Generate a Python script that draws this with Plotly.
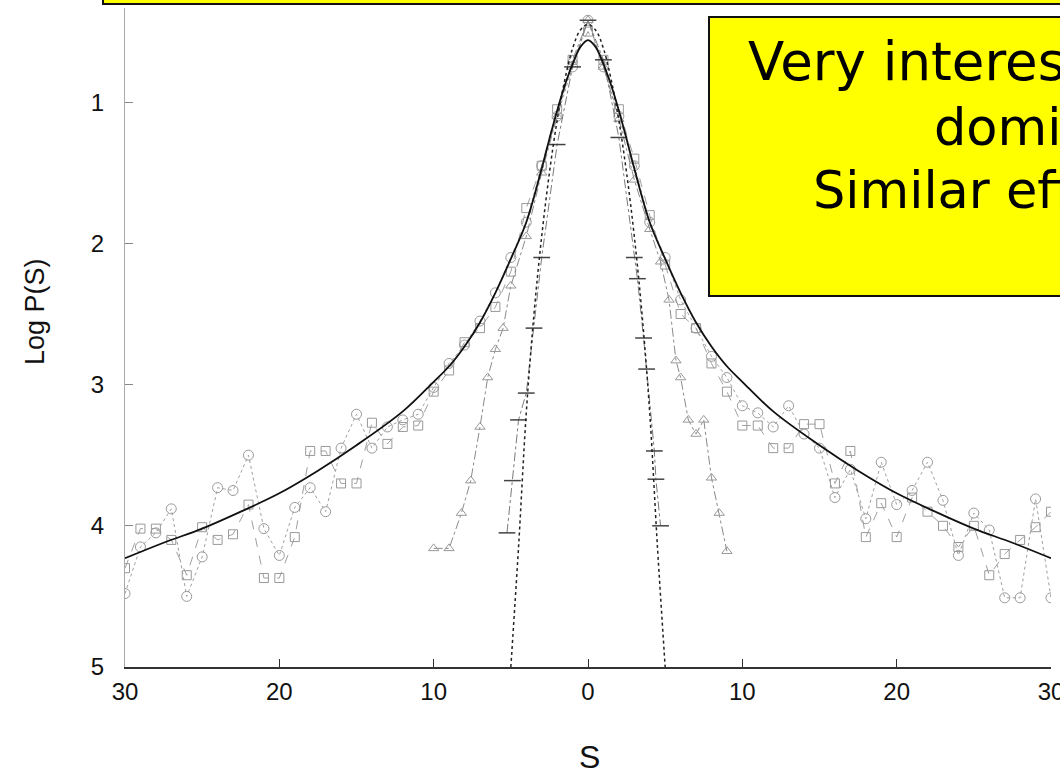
import plotly.graph_objects as go

# ---------------- data ----------------
# smooth fitted curve (solid black)
fit_s = [-30, -27.5, -25, -22.5, -20, -17.5, -15, -12, -10, -9, -8, -7, -6, -5, -4, -3, -2.5, -2, -1.5, -1, -0.5, 0,
         0.5, 1, 1.5, 2, 2.5, 3, 4, 5, 6, 7, 8, 9, 10, 12, 15, 17.5, 20, 22.5, 25, 27.5, 30]
fit_logp = [4.23, 4.12, 4.02, 3.90, 3.77, 3.61, 3.43, 3.19, 2.98, 2.87, 2.73, 2.56, 2.35, 2.11, 1.85, 1.47, 1.26, 1.06, 0.88, 0.73, 0.61, 0.56,
            0.61, 0.73, 0.88, 1.06, 1.26, 1.47, 1.85, 2.11, 2.35, 2.56, 2.73, 2.87, 2.98, 3.19, 3.43, 3.61, 3.77, 3.90, 4.02, 4.12, 4.23]

# narrow gaussian (dotted black)
gauss_s = [-5, -4.5, -4, -3.5, -3, -2.5, -2, -1.5, -1, -0.5, 0, 0.5, 1, 1.5, 2, 2.5, 3, 3.5, 4, 4.5, 5]
gauss_logp = [5.0, 4.15, 3.2, 2.5, 1.95, 1.5, 1.13, 0.84, 0.62, 0.49, 0.45, 0.49, 0.62, 0.84, 1.13, 1.5, 1.95, 2.5, 3.2, 4.15, 5.0]

# wide data set 1 (circles)
circ_s = list(range(-30, 31))
circ_logp = [4.48, 4.15, 4.05, 3.88, 4.50, 4.22, 3.73, 3.75, 3.50, 4.02, 4.21, 3.87, 3.73, 3.90, 3.45, 3.21, 3.45, 3.30, 3.25, 3.21,
             3.02, 2.85, 2.72, 2.55, 2.35, 2.10, 1.85, 1.45, 1.10, 0.75, 0.42,
             0.75, 1.10, 1.45, 1.85, 2.10, 2.40, 2.60, 2.80, 2.95, 3.15, 3.20, 3.30, 3.15, 3.35, 3.45, 3.80, 3.60, 3.95, 3.55, 3.85,
             3.75, 3.55, 3.82, 4.21, 3.91, 4.03, 4.51, 4.51, 3.81, 4.51]

# wide data set 2 (squares)
sq_s = list(range(-30, 31))
sq_logp = [4.30, 4.02, 4.02, 4.10, 4.35, 4.01, 4.10, 4.06, 3.85, 4.37, 4.37, 4.08, 3.47, 3.47, 3.70, 3.70, 3.27, 3.42, 3.30, 3.29,
           3.05, 2.90, 2.70, 2.60, 2.45, 2.20, 1.75, 1.45, 1.05, 0.70, 0.50,
           0.70, 1.05, 1.40, 1.80, 2.15, 2.50, 2.60, 2.85, 3.05, 3.29, 3.29, 3.45, 3.45, 3.28, 3.28, 3.70, 3.47, 4.08, 3.84, 4.08,
           3.80, 3.90, 4.00, 4.15, 4.00, 4.35, 4.20, 4.10, 4.01, 3.90]

# intermediate data set (triangles)
tri_s = [-10, -9, -8.2, -7.6, -7, -6.5, -6, -5.5, -5, -4, -3, -2, -1, 0, 1, 2, 3, 4, 4.7, 5.25, 5.7, 6, 6.5, 7, 7.5, 8, 8.5, 9]
tri_logp = [4.16, 4.16, 3.91, 3.68, 3.30, 2.95, 2.75, 2.60, 2.30, 1.95, 1.50, 1.10, 0.70, 0.42, 0.75, 1.12, 1.55, 1.90, 2.13, 2.40,
            2.83, 2.95, 3.25, 3.35, 3.25, 3.66, 3.91, 4.18]

# narrow data set (dashes)
nar_s = [-5.25, -4.9, -4.5, -4, -3.5, -3, -2, -1, 0, 1, 2, 3, 3.2, 3.6, 3.8, 4.3, 4.4, 4.7]
nar_logp = [4.05, 3.68, 3.25, 3.06, 2.60, 2.10, 1.30, 0.75, 0.42, 0.70, 1.25, 2.10, 2.25, 2.67, 2.89, 3.47, 3.67, 4.00]

x_tickvals = [-30, -20, -10, 0, 10, 20, 30]
x_ticktext = ["30", "20", "10", "0", "10", "20", "30"]
y_tickvals = [1, 2, 3, 4, 5]
y_ticktext = ["1", "2", "3", "4", "5"]

box_lines = ["Very interesting: fat tails", "dominate", "Similar effect elsewhere"]

# ---------------- figure ----------------
W, H = 1060, 772
L, R, T, B = 125, 9, 8, 105
pw, ph = W - L - R, H - T - B


def px(xp):
    return (xp - L) / pw


def py(yp):
    return (H - B - yp) / ph


fig = go.Figure()

fig.add_trace(go.Scatter(x=sq_s, y=sq_logp, mode="lines+markers",
                         line=dict(color="#a0a0a0", width=1, dash="dash"),
                         marker=dict(symbol="square-open", size=9, color="#999999", line=dict(width=1))))
fig.add_trace(go.Scatter(x=circ_s, y=circ_logp, mode="lines+markers",
                         line=dict(color="#a0a0a0", width=1, dash="dot"),
                         marker=dict(symbol="circle-open", size=10, color="#999999", line=dict(width=1))))
fig.add_trace(go.Scatter(x=tri_s, y=tri_logp, mode="lines+markers",
                         line=dict(color="#8a8a8a", width=1, dash="dashdot"),
                         marker=dict(symbol="triangle-up-open", size=9, color="#999999", line=dict(width=1))))
fig.add_trace(go.Scatter(x=nar_s, y=nar_logp, mode="lines+markers",
                         line=dict(color="#7a7a7a", width=1, dash="dashdot"),
                         marker=dict(symbol="line-ew-open", size=12, color="#444444", line=dict(width=1.5))))
fig.add_trace(go.Scatter(x=gauss_s, y=gauss_logp, mode="lines", line_shape="spline",
                         line=dict(color="#222222", width=1.5, dash="dot")))
fig.add_trace(go.Scatter(x=fit_s, y=fit_logp, mode="lines", line_shape="spline",
                         line=dict(color="#111111", width=1.8)))

tickfont = dict(family="Liberation Sans Narrow, Liberation Sans, Arial, sans-serif", size=24, color="#111")

fig.update_xaxes(range=[-30, 30], tickmode="array", tickvals=x_tickvals, ticktext=x_ticktext,
                 ticks="inside", ticklen=8, tickcolor="#333", tickwidth=1,
                 showline=True, linecolor="#333", linewidth=2, showgrid=False, zeroline=False,
                 tickfont=tickfont, ticklabelstandoff=2, ticklabeloverflow="allow", automargin=False)
fig.update_yaxes(range=[5, 0.333], tickmode="array", tickvals=y_tickvals, ticktext=y_ticktext,
                 ticks="inside", ticklen=8, tickcolor="#888", tickwidth=1,
                 showline=True, linecolor="#aaaaaa", linewidth=1, showgrid=False, zeroline=False,
                 tickfont=tickfont, ticklabelstandoff=15, ticklabeloverflow="allow", automargin=False)

shapes = [
    dict(type="rect", xref="paper", yref="paper", x0=px(103), x1=px(1080), y0=py(4), y1=py(-20),
         fillcolor="#ffff00", line=dict(color="#111", width=2), layer="above"),
    dict(type="rect", xref="paper", yref="paper", x0=px(709), x1=px(1100), y0=py(296), y1=py(17),
         fillcolor="#ffff00", line=dict(color="#111", width=2), layer="above"),
]

boxfont = dict(family="DejaVu Sans, Verdana, sans-serif", size=51, color="#000")
boxfont1 = dict(family="DejaVu Sans, Verdana, sans-serif", size=53, color="#000")
annotations = [
    dict(text=box_lines[0], x=px(746), y=py(61), xref="paper", yref="paper", xanchor="left", yanchor="middle",
         showarrow=False, font=boxfont1),
    dict(text=box_lines[1], x=px(932), y=py(127), xref="paper", yref="paper", xanchor="left", yanchor="middle",
         showarrow=False, font=boxfont),
    dict(text=box_lines[2], x=px(811), y=py(190), xref="paper", yref="paper", xanchor="left", yanchor="middle",
         showarrow=False, font=boxfont),
    dict(text="Log P(S)", x=px(35), y=py(312), xref="paper", yref="paper", xanchor="center", yanchor="middle",
         textangle=-90, showarrow=False,
         font=dict(family="Liberation Sans, Arial, sans-serif", size=27, color="#111")),
    dict(text="S", x=px(589), y=py(757), xref="paper", yref="paper", xanchor="center", yanchor="middle",
         showarrow=False,
         font=dict(family="Liberation Sans Narrow, Liberation Sans, Arial, sans-serif", size=32, color="#111")),
]

fig.update_layout(width=W, height=H, margin=dict(l=L, r=R, t=T, b=B, pad=0, autoexpand=False),
                  paper_bgcolor="white", plot_bgcolor="white", showlegend=False,
                  shapes=shapes, annotations=annotations)

fig.write_html("out.html", config={"displayModeBar": False},
               post_script="document.body.style.margin='0px';")
